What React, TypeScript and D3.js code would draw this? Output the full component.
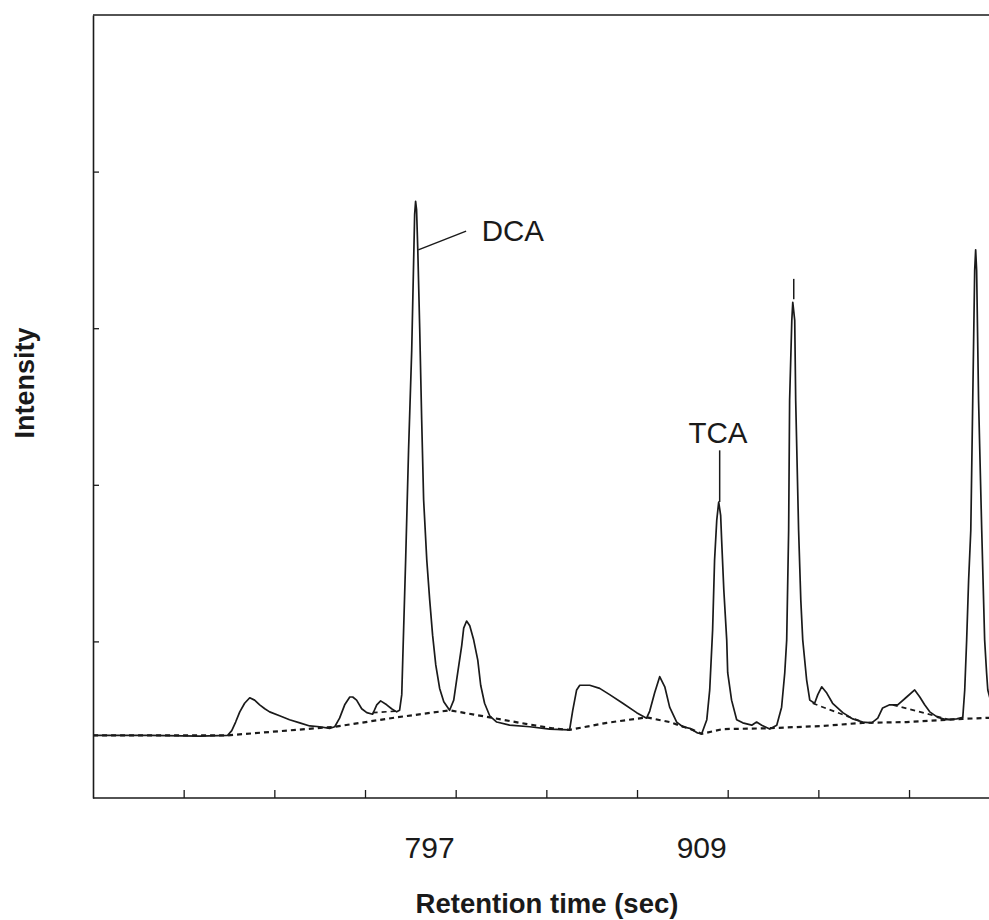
import * as d3 from "d3";
import React, { useRef, useEffect } from "react";

const width = 989;
const height = 920;
const margin = { top: 15, bottom: 122, left: 93 };
const plotRight = 999.7;
const ink = "#1a1a1a";
const font = "'Liberation Sans', Arial, sans-serif";

// retention time (sec) and intensity (% of full scale)
const traceTime = [
  647.7, 671.0, 691.6, 703.1, 704.8, 706.4, 708.1, 710.1, 712.2, 714.2, 716.3, 718.4, 720.4, 724.5,
  728.6, 732.8, 736.9, 741.0, 745.1, 747.2, 749.2, 751.3, 753.4, 754.6, 756.2, 758.3, 760.4, 762.8,
  764.5, 766.1, 768.6, 770.6, 772.7, 773.9, 774.8, 775.2, 776.4, 777.6, 778.9, 779.7, 780.1, 780.5,
  780.9, 781.4, 782.2, 783.0, 783.8, 785.1, 786.3, 787.5, 788.8, 790.4, 792.1, 794.5, 796.2, 797.4,
  798.6, 799.5, 800.3, 801.5, 802.8, 804.4, 806.1, 807.3, 808.9, 811.0, 813.9, 819.2, 827.5, 835.7,
  843.9, 845.2, 846.8, 848.1, 852.2, 856.3, 860.4, 865.8, 871.5, 875.6, 876.9, 878.9, 881.0, 883.1,
  885.1, 888.0, 890.5, 893.4, 896.6, 898.3, 900.4, 901.6, 902.8, 903.6, 904.5, 905.3, 906.1, 906.5,
  907.4, 908.6, 909.0, 910.6, 912.7, 915.2, 918.9, 920.9, 923.0, 926.3, 929.2, 931.2, 932.5, 933.3,
  934.1, 934.5, 935.4, 935.8, 936.6, 937.0, 938.2, 939.1, 939.9, 941.5, 942.8, 944.8, 946.1, 947.7,
  949.8, 952.2, 956.4, 960.5, 964.6, 968.3, 970.8, 972.8, 975.7, 979.0, 982.7, 986.0, 988.1, 990.1,
  992.2, 995.5, 999.2, 1003.3, 1005.8, 1006.6, 1007.4, 1008.2, 1009.1, 1009.9, 1010.7, 1011.1, 1011.5,
  1012.3, 1013.6, 1014.8, 1015.6, 1016.1, 1017.7
];
const traceIntensity = [
  8.0, 8.0, 7.9, 8.0, 8.6, 9.7, 11.0, 12.1, 12.8, 12.5, 11.9, 11.4, 11.0, 10.5,
  10.0, 9.6, 9.2, 9.1, 8.9, 9.1, 10.2, 11.9, 12.9, 12.9, 12.5, 11.4, 10.9, 10.7,
  11.9, 12.4, 11.9, 11.4, 11.0, 11.2, 13.2, 17.6, 30.4, 44.4, 57.2, 68.7, 74.5, 76.2,
  75.1, 70.0, 59.8, 48.3, 38.1, 30.4, 25.3, 20.8, 17.0, 14.0, 12.3, 11.2, 12.5, 15.1,
  17.6, 19.5, 21.7, 22.6, 22.0, 20.2, 17.6, 14.4, 12.1, 10.5, 9.7, 9.3, 9.1, 8.8,
  8.7, 11.2, 13.8, 14.4, 14.4, 14.0, 13.2, 12.1, 10.9, 10.2, 11.1, 13.4, 15.5, 14.2,
  11.6, 9.7, 9.1, 8.9, 8.3, 8.2, 10.0, 13.8, 21.5, 30.4, 35.5, 37.8, 36.1, 33.0,
  26.6, 20.2, 16.0, 12.5, 10.0, 9.6, 9.3, 9.7, 9.3, 8.8, 9.3, 11.6, 16.0, 20.2,
  34.2, 50.8, 61.0, 63.3, 61.0, 50.8, 34.2, 25.3, 20.2, 15.1, 12.5, 12.1, 13.2, 14.2,
  13.4, 12.1, 10.9, 10.1, 9.7, 9.6, 10.2, 11.5, 11.9, 11.9, 12.9, 13.8, 12.9, 11.9,
  11.0, 10.3, 10.0, 10.1, 10.3, 13.8, 20.2, 27.8, 34.2, 50.8, 67.4, 70.0, 67.4,
  50.8, 34.2, 20.2, 16.0, 13.8, 11.9
];

// integration baseline (dashed)
const baseTime = [
  647.7, 703.1, 747.2, 772.7, 794.5, 811.0, 823.4, 836.9, 843.9, 859.2, 875.6, 885.1, 894.6,
  898.3, 906.9, 925.1, 948.1, 964.6, 982.7, 1005.8, 1020.6
];
const baseIntensity = [
  8.0, 8.0, 9.1, 10.3, 11.2, 10.3, 9.6, 8.9, 8.7, 9.6, 10.3, 9.7, 8.7,
  8.2, 8.8, 8.9, 9.2, 9.6, 9.7, 10.1, 10.3
];

// tangent skims under shoulder peaks: [t0, i0, t1, i1]
const skimLines = [
  [762.8, 10.9, 772.7, 11.1],
  [944.0, 12.1, 964.6, 9.7],
  [977.0, 11.9, 1000.4, 10.0]
];

// peak labels: leader from (t, i0) to (t1, i1)
const peakLabels = ["DCA", "TCA", ""];
const peakLeaders = [
  [781.6, 70.0, 801.3, 72.4],
  [905.7, 37.8, 905.7, 44.4],
  [936.2, 63.7, 936.2, 66.3]
];
const peakTextPos = [
  [807.7, 71.1, "start"],
  [905.0, 45.4, "middle"],
  [936.2, 66.3, "middle"]
];

const xDomain = [647.667, 1021];
const xTicks = [685, 722.333, 759.667, 797, 834.333, 871.667, 909, 946.333, 983.667];
const xTickLabels = ["", "", "", "797", "", "", "909", "", ""];
const yTicks = [20, 40, 60, 80];

export default function App() {
  const ref = useRef(null);

  useEffect(() => {
    if (!ref.current) return;
    const svg = d3.select(ref.current);
    svg.selectAll("*").remove();

    const x = d3.scaleLinear().domain(xDomain).range([margin.left, plotRight]);
    const y = d3.scaleLinear().domain([0, 100]).range([height - margin.bottom, margin.top]);

    svg.append("defs").append("clipPath").attr("id", "plot-clip")
      .append("rect")
      .attr("x", margin.left).attr("y", margin.top)
      .attr("width", plotRight - margin.left)
      .attr("height", height - margin.bottom - margin.top);

    const line = d3.line<number[]>().x(d => x(d[0])).y(d => y(d[1]));
    const plot = svg.append("g").attr("clip-path", "url(#plot-clip)");

    // dashed baselines first, trace on top
    plot.append("path")
      .datum(baseTime.map((t, i) => [t, baseIntensity[i]]))
      .attr("d", line)
      .attr("fill", "none")
      .attr("stroke", ink)
      .attr("stroke-width", 2.2)
      .attr("stroke-dasharray", "5,4");

    plot.selectAll("path.skim")
      .data(skimLines)
      .join("path")
      .attr("class", "skim")
      .attr("d", d => line([[d[0], d[1]], [d[2], d[3]]]))
      .attr("fill", "none")
      .attr("stroke", ink)
      .attr("stroke-width", 1.7)
      .attr("stroke-dasharray", "5,4");

    plot.append("path")
      .datum(traceTime.map((t, i) => [t, traceIntensity[i]]))
      .attr("d", line)
      .attr("fill", "none")
      .attr("stroke", ink)
      .attr("stroke-width", 1.7)
      .attr("stroke-linejoin", "round");

    // frame: left axis, bottom axis, top border
    const xAxis = svg.append("g")
      .attr("transform", `translate(0,${height - margin.bottom})`)
      .call(d3.axisTop(x).tickValues(xTicks).tickSize(8).tickSizeOuter(0).tickFormat(() => ""));
    xAxis.select(".domain").attr("stroke", ink).attr("stroke-width", 1.6)
      .attr("d", `M${margin.left},0H${width}`);
    xAxis.selectAll(".tick line").attr("stroke", ink).attr("stroke-width", 1.3);

    const yAxis = svg.append("g")
      .attr("transform", `translate(${margin.left},0)`)
      .call(d3.axisRight(y).tickValues(yTicks).tickSize(6).tickSizeOuter(0).tickFormat(() => ""));
    yAxis.select(".domain").attr("stroke", ink).attr("stroke-width", 1.6);
    yAxis.selectAll(".tick line").attr("stroke", ink).attr("stroke-width", 1.3);

    svg.append("line")
      .attr("x1", margin.left).attr("x2", width)
      .attr("y1", y(100)).attr("y2", y(100))
      .attr("stroke", ink).attr("stroke-width", 1.6);

    // tick labels sit to the left of their tick
    svg.append("g")
      .selectAll("text")
      .data(xTicks.map((t, i) => [t, xTickLabels[i]]).filter(d => d[1] !== ""))
      .join("text")
      .attr("x", d => x(d[0] as number) - 1)
      .attr("y", 858)
      .attr("text-anchor", "end")
      .attr("font-family", font)
      .attr("font-size", 30)
      .attr("fill", ink)
      .text(d => d[1] as string);

    // peak annotations
    svg.append("g")
      .selectAll("line")
      .data(peakLeaders)
      .join("line")
      .attr("x1", d => x(d[0])).attr("y1", d => y(d[1]))
      .attr("x2", d => x(d[2])).attr("y2", d => y(d[3]))
      .attr("stroke", ink).attr("stroke-width", 1.5);

    svg.append("g")
      .selectAll("text")
      .data(peakTextPos.map((p, i) => [...p, peakLabels[i]]))
      .join("text")
      .attr("x", d => x(d[0] as number))
      .attr("y", d => y(d[1] as number))
      .attr("text-anchor", d => d[2] as string)
      .attr("font-family", font)
      .attr("font-size", 29.5)
      .attr("fill", ink)
      .text(d => d[3] as string);

    // axis titles
    svg.append("text")
      .attr("x", 547).attr("y", 913)
      .attr("text-anchor", "middle")
      .attr("font-family", font)
      .attr("font-weight", "bold")
      .attr("font-size", 27.5)
      .attr("fill", ink)
      .text("Retention time (sec)");

    svg.append("text")
      .attr("transform", "translate(34,383) rotate(-90)")
      .attr("text-anchor", "middle")
      .attr("font-family", font)
      .attr("font-weight", "bold")
      .attr("font-size", 27)
      .attr("fill", ink)
      .text("Intensity");
  }, []);

  return (
    <svg
      ref={ref}
      width={width}
      height={height}
      style={{ position: "absolute", left: 0, top: 0, background: "#fff" }}
    />
  );
}
